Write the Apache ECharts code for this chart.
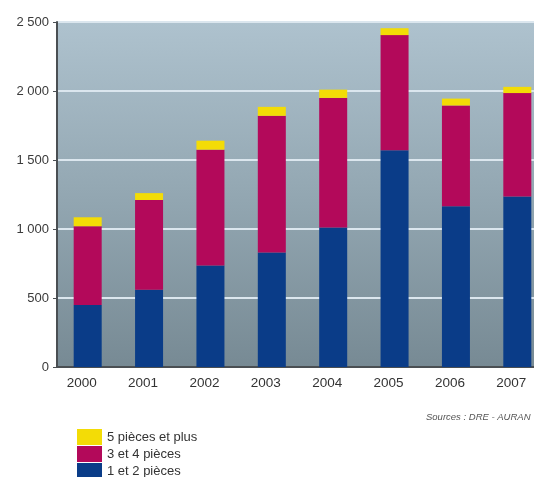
<!DOCTYPE html>
<html>
<head>
<meta charset="utf-8">
<script src="https://cdn.jsdelivr.net/npm/echarts@6/dist/echarts.min.js"></script>
<style>
html,body{margin:0;padding:0;background:#fff;overflow:hidden;width:534px;height:477px;}
#c{width:560px;height:500px;}
</style>
</head>
<body>
<div id="c"></div>
<script>
var years = ['2000','2001','2002','2003','2004','2005','2006','2007'];
var p12 = [450, 560, 735, 830, 1010, 1570, 1165, 1235];
var p34 = [570, 650, 840, 990, 940, 835, 730, 750];
var p5plus = [65, 50, 65, 65, 60, 50, 50, 45];
var seriesNames = ['1 et 2 pièces', '3 et 4 pièces', '5 pièces et plus'];
var legendOrder = ['5 pièces et plus', '3 et 4 pièces', '1 et 2 pièces'];
var yTicks = [0, 500, 1000, 1500, 2000, 2500];
var sourceText = 'Sources : DRE - AURAN';

var colors = ['#0a3c88', '#b3095a', '#f3dc06'];
var font = 'Liberation Sans, Arial, sans-serif';

function fmt(v){ return String(v).replace(/\B(?=(\d{3})+(?!\d))/g, ' '); }

var chart = echarts.init(document.getElementById('c'), null, {renderer:'canvas'});
var datas = [p12, p34, p5plus];
chart.setOption({
  animation: false,
  backgroundColor: '#ffffff',
  textStyle: {fontFamily: font},
  grid: {
    left: 57, top: 22, width: 491, height: 345,
    show: true, borderWidth: 0,
    backgroundColor: {type:'linear', x:0, y:0, x2:0, y2:1, colorStops:[
      {offset:0, color:'#aec2ce'},
      {offset:0.5, color:'#93a7b2'},
      {offset:1, color:'#778a94'}
    ]}
  },
  legend: {
    orient: 'vertical', left: 72, top: 424, height: 70,
    itemWidth: 25, itemHeight: 16, itemGap: 1,
    data: legendOrder,
    icon: 'rect',
    textStyle: {fontSize: 13, color: '#333', fontFamily: font}
  },
  xAxis: {
    type: 'category', data: years,
    axisLine: {show:true, lineStyle:{color:'#4a4f53', width:2}},
    axisTick: {show:false},
    axisLabel: {fontSize: 13.5, color: '#333', margin: 9, padding:[0,12,0,0], fontFamily: font}
  },
  yAxis: {
    type: 'value', min: yTicks[0], max: yTicks[yTicks.length-1], interval: 500,
    axisLine: {show:true, lineStyle:{color:'#4a4f53', width:2}},
    axisTick: {show:true, length:4, lineStyle:{color:'#4a4f53'}},
    axisLabel: {fontSize: 13, color: '#3a3a3a', margin: 8, formatter: fmt, fontFamily: font},
    splitLine: {show:true, lineStyle:{color:'#dbe6ee', width:2}}
  },
  graphic: [{
    type:'text', left: 426, top: 412,
    style:{text: sourceText, fontSize: 9.5, fontStyle:'italic', fill:'#555', fontFamily: font}
  }],
  series: seriesNames.map(function(n, i){
    return {
      name: n, type: 'bar', stack: 'total', barWidth: 28,
      data: datas[i],
      itemStyle: {color: colors[i]}
    };
  })
});
</script>
</body>
</html>
